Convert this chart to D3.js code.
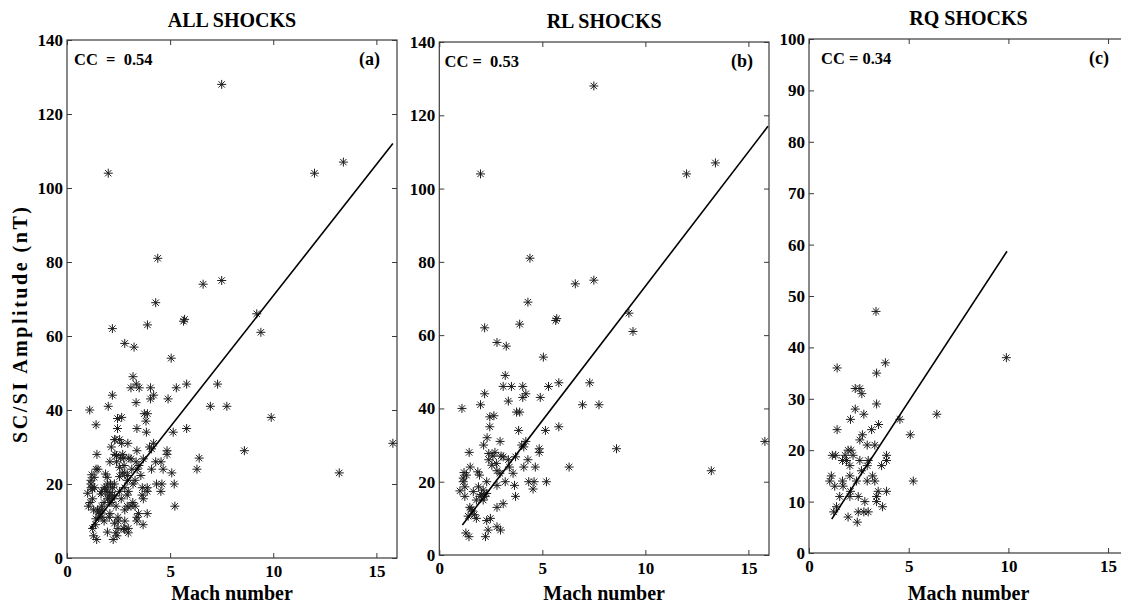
<!DOCTYPE html>
<html>
<head>
<meta charset="utf-8">
<script src="https://cdn.jsdelivr.net/npm/d3@7"></script>
<style>
  body { margin: 0; background: #fff; }
  svg { display: block; }
  text { font-family: "Liberation Serif", "Times New Roman", serif; font-weight: bold; fill: #000; }
</style>
</head>
<body>
<div id="chart"></div>
<script>
// RL shocks
const rlMach = [7.5, 2.0, 12.0, 13.4, 4.4, 6.6, 7.5, 9.2, 9.4, 8.6, 13.2, 15.8,
  4.3, 2.2, 3.9, 5.65, 5.7, 2.8, 3.25, 5.05, 3.2, 3.1, 3.5, 4.05, 5.3, 5.8, 7.3, 4.2, 4.05, 4.9,
  2.2, 2.0, 3.35, 1.1, 6.95, 7.75, 2.45, 2.65, 3.75, 3.9, 2.45, 3.85, 5.15, 5.8,
  2.32, 2.15, 2.95, 4.2, 4.1, 4.0, 4.85, 4.85, 1.45, 2.4, 2.6, 2.4, 3.1, 3.35, 3.7, 4.3, 6.3,
  1.5, 1.87, 1.95, 2.77, 2.8, 2.94, 3.4, 4.1, 4.66, 3.58, 1.32, 1.16, 1.16, 2.3, 3.2, 4.34, 4.6, 4.55, 5.2,
  1.24, 1.24, 2.13, 2.2, 2.13, 2.3, 2.8, 3.7, 3.1, 2.8, 1.48, 1.6, 1.4, 1.8, 2.3, 2.48, 2.8, 2.97, 2.37,
  1.29, 1.44, 2.24, 1.8, 1.65, 1.0, 1.97, 1.9, 3.65, 1.2, 1.55, 1.7, 2.05, 2.55, 3.0, 2.7];
const rlAmp = [128, 104, 104, 107, 81, 74, 75, 66, 61, 29, 23, 31,
  69, 62, 63, 64, 64.5, 58, 57, 54, 49, 46, 46, 46, 46, 47, 47, 44, 43, 43,
  44, 41, 42, 40, 41, 41, 37.7, 38, 39, 39, 35, 34, 34, 35,
  32, 30, 31, 31, 29.5, 30, 29, 28, 28, 27.7, 27, 26, 26.8, 26, 26.8, 26, 24,
  24, 22.7, 21.8, 25, 23, 22.3, 24, 24, 24, 22.3, 21.8, 21, 20, 20, 20, 20, 20, 18, 20,
  18.6, 16, 17.7, 16, 15, 16.8, 19, 16, 14, 13, 13, 12, 10.6, 10, 9.4, 10, 7.7, 6.8, 6.8,
  6, 5, 5, 15, 17.3, 17.5, 16, 18.6, 19, 22.5, 12.5, 11, 16.5, 24.5, 27, 28];

// RQ shocks
const rqMach = [3.36, 3.83, 1.41, 3.39, 2.32, 2.55, 2.65, 3.39, 2.32, 2.75, 2.08, 4.56, 6.41,
  1.41, 3.14, 3.49, 5.08, 2.68, 2.55, 2.92, 3.3, 1.17, 1.34, 1.96, 2.11, 2.21, 1.81, 1.88, 1.68,
  2.55, 2.97, 3.89, 3.89, 2.05, 2.92, 3.64, 2.63, 1.12, 2.05, 3.19, 1.04, 1.68, 2.38, 2.92, 3.3,
  5.23, 1.29, 1.71, 3.47, 3.89, 1.54, 2.05, 2.47, 3.39, 2.08, 3.39, 2.8, 1.38, 3.69, 1.24, 2.47,
  2.75, 2.97, 1.96, 2.42, 9.9];
const rqAmp = [47, 37, 36, 35, 32, 32, 31, 29, 28, 27, 26, 26, 27,
  24, 24, 25, 23, 23, 22, 21, 21, 19, 19, 20, 20, 19, 19, 18, 18,
  18, 18, 19, 18, 17, 17, 17, 16, 15, 15, 15, 14, 14, 14, 14, 14,
  14, 13, 13, 12, 12, 11, 11, 11, 11, 12, 10, 10, 9, 9, 8, 8,
  8, 8, 7, 6, 38];

// all shocks = RL + RQ
const allMach = rlMach.concat(rqMach);
const allAmp = rlAmp.concat(rqAmp);

// least-squares lines (end points)
const allFitMach = [1.12, 15.8], allFitAmp = [7.9, 112];
const rlFitMach = [1.12, 15.95], rlFitAmp = [8.2, 117];
const rqFitMach = [1.14, 9.93], rqFitAmp = [6.6, 58.7];

const xTicks = [0, 5, 10, 15];
const yTicksBig = [0, 20, 40, 60, 80, 100, 120, 140];
const yTicksSmall = [0, 10, 20, 30, 40, 50, 60, 70, 80, 90, 100];

const titles = ["ALL SHOCKS", "RL SHOCKS", "RQ SHOCKS"];
const ccLabels = ["CC  =  0.54", "CC =  0.53", "CC = 0.34"];
const panelTags = ["(a)", "(b)", "(c)"];

const width = 1121, height = 603;
const svg = d3.select("#chart").append("svg")
    .attr("width", width)
    .attr("height", height);

const panels = [
    { left: 67, right: 397, top: 40, bottom: 558, yMax: 140, yTicks: yTicksBig,
      mach: allMach, amp: allAmp, fx: allFitMach, fy: allFitAmp },
    { left: 439.3, right: 769, top: 42, bottom: 555, yMax: 140, yTicks: yTicksBig,
      mach: rlMach, amp: rlAmp, fx: rlFitMach, fy: rlFitAmp },
    { left: 809, right: 1128, top: 39, bottom: 553, yMax: 100, yTicks: yTicksSmall,
      mach: rqMach, amp: rqAmp, fx: rqFitMach, fy: rqFitAmp }
];

const r = 4.5, d = r * 0.7071;
const star = `M${-r},0L${r},0M0,${-r}L0,${r}M${-d},${-d}L${d},${d}M${-d},${d}L${d},${-d}`;
const axisColor = "#3a3a3a";

panels.forEach((p, i) => {
    const x = d3.scaleLinear().domain([0, 16]).range([p.left, p.right]);
    const y = d3.scaleLinear().domain([0, p.yMax]).range([p.bottom, p.top]);
    const g = svg.append("g");

    // frame
    g.append("rect")
        .attr("x", p.left).attr("y", p.top)
        .attr("width", p.right - p.left).attr("height", p.bottom - p.top)
        .attr("fill", "none").attr("stroke", axisColor).attr("stroke-width", 1.2);

    // axes with inward ticks
    const fmt = d3.format("d");
    g.append("g").attr("transform", `translate(0,${p.bottom})`)
        .call(d3.axisBottom(x).tickValues(xTicks).tickSize(-5).tickPadding(7).tickFormat(fmt));
    g.append("g").attr("transform", `translate(0,${p.top})`)
        .call(d3.axisTop(x).tickValues(xTicks).tickSize(-5).tickFormat(""));
    g.append("g").attr("transform", `translate(${p.left},0)`)
        .call(d3.axisLeft(y).tickValues(p.yTicks).tickSize(-5).tickPadding(4).tickFormat(fmt));
    g.append("g").attr("transform", `translate(${p.right},0)`)
        .call(d3.axisRight(y).tickValues(p.yTicks).tickSize(-5).tickFormat(""));

    g.selectAll(".domain").remove();
    g.selectAll(".tick line").attr("stroke", axisColor);
    g.selectAll(".tick text")
        .attr("fill", "#000")
        .style("font-family", "'Liberation Serif', 'Times New Roman', serif")
        .style("font-weight", "bold")
        .style("font-size", "17px");

    // points
    g.append("g").selectAll("path")
        .data(p.mach.map((m, k) => [m, p.amp[k]]))
        .join("path")
        .attr("d", star)
        .attr("transform", dd => `translate(${x(dd[0])},${y(dd[1])})`)
        .attr("fill", "none")
        .attr("stroke", "#1e1e1e")
        .attr("stroke-width", 1);

    // fit line
    g.append("line")
        .attr("x1", x(p.fx[0])).attr("y1", y(p.fy[0]))
        .attr("x2", x(p.fx[1])).attr("y2", y(p.fy[1]))
        .attr("stroke", "#000").attr("stroke-width", 1.6);

    // texts
    const cx = (p.left + p.right) / 2;
    g.append("text").attr("x", cx).attr("y", 27 + (i === 1 ? 1 : 0) - (i === 2 ? 2 : 0))
        .attr("text-anchor", "middle").style("font-size", "20px").text(titles[i]);
    g.append("text").attr("x", [74, 444.5, 821][i]).attr("y", p.top + 25)
        .style("font-size", "16.5px").style("white-space", "pre").text(ccLabels[i]);
    g.append("text").attr("x", [380, 753, 1109][i]).attr("y", p.top + 25)
        .attr("text-anchor", "end").style("font-size", "18px").text(panelTags[i]);
    g.append("text").attr("x", cx).attr("y", 600)
        .attr("text-anchor", "middle").style("font-size", "20px").text("Mach number");
});

svg.append("text")
    .attr("transform", "translate(27,325) rotate(-90)")
    .attr("text-anchor", "middle")
    .attr("textLength", 236).attr("lengthAdjust", "spacing")
    .style("font-size", "20px")
    .text("SC/SI Amplitude (nT)");
</script>
</body>
</html>
